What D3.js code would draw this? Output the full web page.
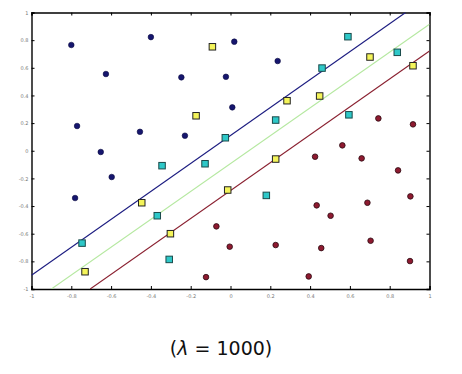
<!DOCTYPE html>
<html><head><meta charset="utf-8">
<script src="https://cdn.jsdelivr.net/npm/d3@7"></script>
<style>body{margin:0;background:#fff}svg{display:block}</style>
</head><body>
<script>
const xTicks = [-1,-0.8,-0.6,-0.4,-0.2,0,0.2,0.4,0.6,0.8,1];
const yTicks = [-1,-0.8,-0.6,-0.4,-0.2,0,0.2,0.4,0.6,0.8,1];
const blueX = [-0.80,-0.626,-0.40,-0.771,-0.455,-0.652,-0.597,-0.781,0.019,0.237,-0.247,-0.023,0.009,-0.229];
const blueY = [0.765,0.555,0.822,0.179,0.137,-0.009,-0.19,-0.342,0.789,0.649,0.531,0.535,0.314,0.109];
const yellowX = [-0.091,0.284,-0.173,0.701,0.917,0.448,-0.446,-0.731,0.227,-0.014,-0.302];
const yellowY = [0.752,0.362,0.253,0.678,0.615,0.396,-0.376,-0.875,-0.06,-0.284,-0.6];
const cyanX = [0.59,0.838,0.46,0.595,0.227,-0.026,-0.344,-0.128,0.18,-0.368,-0.308,-0.746];
const cyanY = [0.825,0.712,0.598,0.26,0.222,0.094,-0.108,-0.094,-0.323,-0.47,-0.786,-0.668];
const redX = [-0.071,-0.004,0.227,-0.123,0.743,0.917,0.562,0.425,0.659,0.842,0.904,0.688,0.433,0.503,0.704,0.456,0.902,0.393];
const redY = [-0.547,-0.694,-0.682,-0.914,0.234,0.191,0.039,-0.043,-0.055,-0.142,-0.33,-0.376,-0.395,-0.47,-0.651,-0.704,-0.798,-0.909];
// lines: [x1,y1,x2,y2]
const blueLine = [-1,-0.9,0.88,1];
const greenLine = [-0.9,-1,1,0.915];
const redLine = [-0.705,-1,1,0.722];

const W=462,H=374;
const svg=d3.select("body").append("svg").attr("width",W).attr("height",H);
const x=d3.scaleLinear().domain([-1,1]).range([31.5,429.5]);
const y=d3.scaleLinear().domain([-1,1]).range([289,12.5]);

const fmt=d=>d===0?"0":String(d);
const g=svg.append("g");
// axes
g.append("g").attr("transform",`translate(0,${y(-1)})`)
 .call(d3.axisBottom(x).tickValues(xTicks).tickSize(-3).tickPadding(5).tickFormat(fmt));
g.append("g").attr("transform",`translate(${x(-1)},0)`)
 .call(d3.axisLeft(y).tickValues(yTicks).tickSize(-3).tickPadding(3).tickFormat(fmt));
g.append("g").attr("transform",`translate(0,${y(1)})`)
 .call(d3.axisTop(x).tickValues(xTicks).tickSize(-3).tickFormat(""));
g.append("g").attr("transform",`translate(${x(1)},0)`)
 .call(d3.axisRight(y).tickValues(yTicks).tickSize(-3).tickFormat(""));
g.selectAll(".domain").attr("stroke","#000").attr("stroke-width",1.4);
g.selectAll(".tick line").attr("stroke","#000").attr("stroke-width",1);
g.selectAll(".tick text").attr("font-size",5).attr("fill","#777").attr("font-family","DejaVu Sans");

const clip=svg.append("clipPath").attr("id","c").append("rect")
 .attr("x",x(-1)).attr("y",y(1)).attr("width",x(1)-x(-1)).attr("height",y(-1)-y(1));
const plot=svg.append("g").attr("clip-path","url(#c)");
[[blueLine,"#1c1c80"],[greenLine,"#b5e8a0"],[redLine,"#8a2030"]].forEach(([l,c])=>{
  plot.append("line").attr("x1",x(l[0])).attr("y1",y(l[1])).attr("x2",x(l[2])).attr("y2",y(l[3]))
   .attr("stroke",c).attr("stroke-width",1.1);
});

const pts=svg.append("g");
pts.selectAll(".b").data(blueX.map((v,i)=>[v,blueY[i]])).join("circle")
 .attr("cx",d=>x(d[0])).attr("cy",d=>y(d[1])).attr("r",2.8).attr("fill","#16166e").attr("stroke","#0a0a40").attr("stroke-width",0.6);
pts.selectAll(".r").data(redX.map((v,i)=>[v,redY[i]])).join("circle")
 .attr("cx",d=>x(d[0])).attr("cy",d=>y(d[1])).attr("r",2.8).attr("fill","#8e1a30").attr("stroke","#2a0a10").attr("stroke-width",0.8);
const sq=6.5;
pts.selectAll(".y").data(yellowX.map((v,i)=>[v,yellowY[i]])).join("rect")
 .attr("x",d=>x(d[0])-sq/2).attr("y",d=>y(d[1])-sq/2).attr("width",sq).attr("height",sq)
 .attr("fill","#f4f45a").attr("stroke","#222").attr("stroke-width",1);
pts.selectAll(".c").data(cyanX.map((v,i)=>[v,cyanY[i]])).join("rect")
 .attr("x",d=>x(d[0])-sq/2).attr("y",d=>y(d[1])-sq/2).attr("width",sq).attr("height",sq)
 .attr("fill","#2ec8c8").attr("stroke","#1a4a4a").attr("stroke-width",1);

const t=svg.append("text").attr("x",221).attr("y",355).attr("text-anchor","middle")
 .attr("font-family","DejaVu Sans").attr("font-size",19).attr("fill","#111");
t.append("tspan").text("(");
t.append("tspan").attr("font-style","italic").text("λ");
t.append("tspan").text(" = 1000)");
</script>
</body></html>
